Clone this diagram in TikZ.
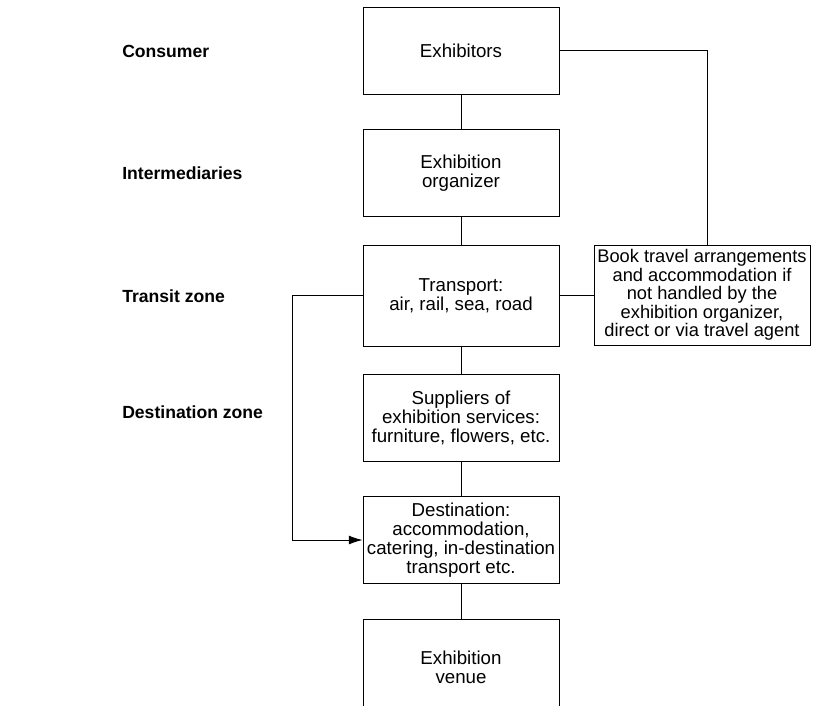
\documentclass[tikz,border=0pt]{standalone}
\usepackage{fontspec}
\setmainfont{Liberation Sans}
\usetikzlibrary{arrows.meta}

\begin{document}
\begin{tikzpicture}[x=0.025cm, y=-0.025cm,
  box/.style={draw, line width=0.6pt, align=center, inner sep=1pt,
    minimum width=4.9cm, minimum height=2.175cm,
    font=\fontsize{13.3}{13.4}\selectfont},
  zone/.style={anchor=west, inner sep=0pt, font=\fontsize{12.5}{13.5}\selectfont\bfseries},
  link/.style={line width=0.6pt}]
\useasboundingbox (0,0) rectangle (813,705);
\clip (0,0) rectangle (813,705);
% зоны
\node [zone] (consumer) at (122,51) {Consumer};
\node [zone] (intermed) at (122,173) {Intermediaries};
\node [zone] (transit) at (122,296) {Transit zone};
\node [zone] (destzone) at (122,412) {Destination zone};
% блоки
\node [box] (exhibitors) at (461,50.5) {Exhibitors};
\node [box] (organizer) at (461,173) {Exhibition\\organizer};
\node [box, minimum height=2.525cm] (transport) at (461,295.5) {Transport:\\air, rail, sea, road};
\node [box] (suppliers) at (461,418) {Suppliers of\\exhibition services:\\furniture, flowers, etc.};
\node [box] (destination) at (461,540) {Destination:\\accommodation,\\catering, in-destination\\transport etc.};
\node [box, minimum height=2.4cm] (venue) at (461,667) {Exhibition\\venue};
\node [box, minimum width=5.4cm, minimum height=2.5cm, font=\fontsize{13}{13.2}\selectfont] (book) at (702,295)
  {Book travel arrangements\\and accommodation if\\not handled by the\\exhibition organizer,\\direct or via travel agent};
% связи
\draw [link] (exhibitors) -- (organizer);
\draw [link] (organizer) -- (transport);
\draw [link] (transport) -- (suppliers);
\draw [link] (suppliers) -- (destination);
\draw [link] (destination) -- (venue);
\draw [link] (exhibitors.east) -| ([xshift=0.125cm]book.north);
\draw [link] (transport.east) -- (transport.east -| book.west);
\coordinate (bend) at (292,0);
\draw [link, -{Latex[length=3.4mm,width=2.2mm]}] (transport.west) -- (transport.west -| bend) |- (destination.west);
\end{tikzpicture}
\end{document}
